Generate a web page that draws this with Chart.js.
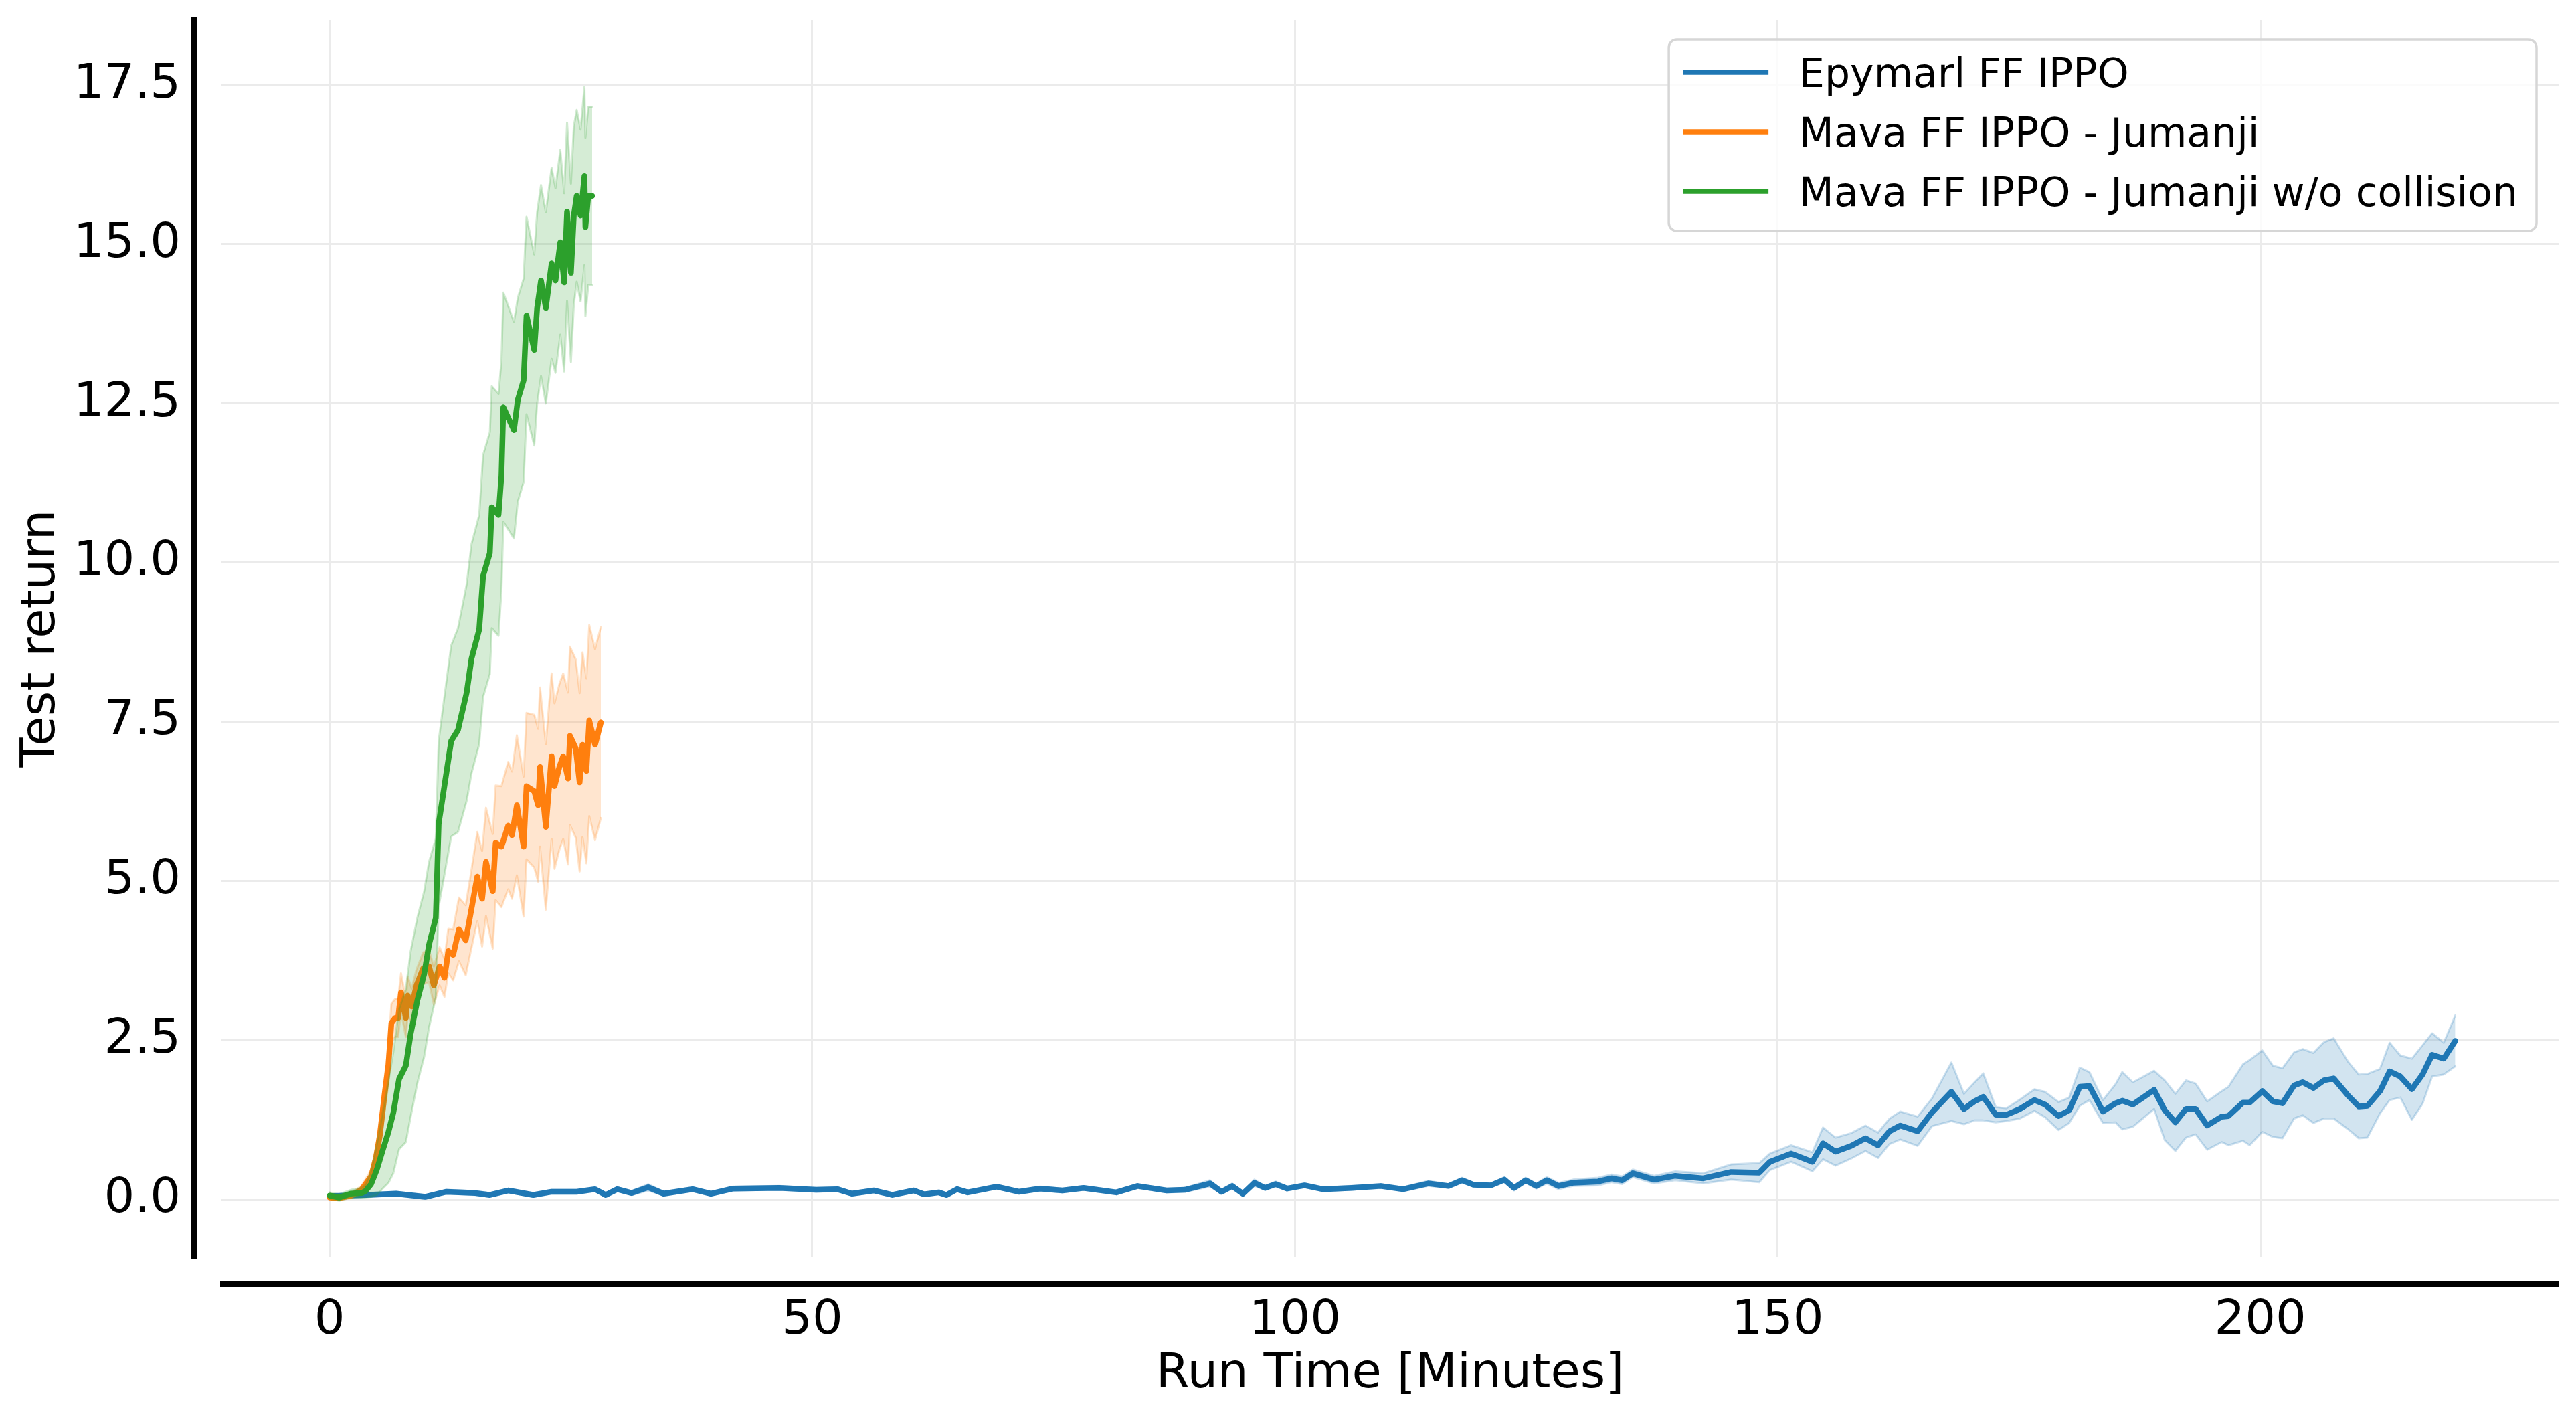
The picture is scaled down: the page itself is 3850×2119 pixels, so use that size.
<!DOCTYPE html>
<html>
<head>
<meta charset="utf-8">
<script src="https://cdn.jsdelivr.net/npm/chart.js@4.4.1/dist/chart.umd.min.js"></script>
<style>
  html, body { margin: 0; padding: 0; background: #fff; overflow: hidden; }
  canvas { display: block; }
</style>
</head>
<body>
<canvas id="myChart" width="3850" height="2119" style="width:3850px;height:2119px"></canvas>
<script>
(function () {
    "use strict";

    const seriesLabels = ['Epymarl FF IPPO', 'Mava FF IPPO - Jumanji', 'Mava FF IPPO - Jumanji w/o collision'];
    const axisLabels = { x: 'Run Time [Minutes]', y: 'Test return' };

    // Epymarl FF IPPO (minutes / mean return / spread of the shaded band)
    const epymarlTime = [
        0, 3.8, 6.9, 9.9, 12.1, 15.1, 16.6, 18.5, 21.1, 23.0,
        25.6, 27.5, 28.6, 29.8, 31.3, 33.0, 34.6, 37.6, 39.5, 41.8,
        46.6, 50.4, 52.6, 54.1, 56.4, 58.3, 60.5, 61.6, 63.1, 63.9,
        65.0, 66.1, 69.1, 71.4, 73.6, 75.9, 78.1, 81.5, 83.7, 86.7,
        88.6, 91.2, 92.4, 93.5, 94.6, 95.8, 96.9, 98.0, 99.2, 101.0,
        102.9, 105.9, 108.9, 111.2, 113.8, 115.9, 117.3, 118.5, 120.3, 121.7,
        122.7, 123.9, 125.0, 126.1, 127.3, 128.8, 131.4, 132.8, 133.9, 135.0,
        137.2, 139.4, 142.3, 145.2, 148.1, 149.2, 151.4, 153.6, 154.7, 156.0,
        157.6, 159.1, 160.4, 161.6, 162.7, 164.5, 166.0, 168.0, 169.3, 170.4,
        171.3, 172.6, 173.7, 175.1, 176.6, 177.7, 179.1, 180.2, 181.3, 182.3,
        183.7, 185.0, 185.7, 186.8, 189.0, 190.1, 191.2, 192.3, 193.3, 194.5,
        196.0, 196.7, 198.2, 198.9, 200.2, 201.3, 202.3, 203.5, 204.4, 205.5,
        206.6, 207.6, 209.1, 210.2, 211.1, 212.4, 213.4, 214.5, 215.7, 216.8,
        217.8, 219.0, 220.2
    ];
    const epymarlMean = [
        0.05, 0.07, 0.09, 0.04, 0.12, 0.10, 0.07, 0.14, 0.07, 0.12,
        0.12, 0.16, 0.07, 0.16, 0.10, 0.19, 0.09, 0.16, 0.09, 0.17,
        0.18, 0.15, 0.16, 0.09, 0.14, 0.07, 0.14, 0.08, 0.11, 0.07,
        0.16, 0.11, 0.20, 0.12, 0.17, 0.14, 0.18, 0.11, 0.21, 0.14,
        0.15, 0.25, 0.12, 0.21, 0.09, 0.26, 0.18, 0.24, 0.17, 0.22,
        0.16, 0.18, 0.21, 0.16, 0.25, 0.21, 0.30, 0.23, 0.22, 0.31,
        0.18, 0.30, 0.21, 0.30, 0.21, 0.26, 0.28, 0.33, 0.30, 0.41,
        0.31, 0.37, 0.33, 0.43, 0.42, 0.59, 0.72, 0.59, 0.88, 0.75,
        0.84, 0.96, 0.85, 1.07, 1.16, 1.07, 1.37, 1.69, 1.42, 1.54,
        1.61, 1.33, 1.33, 1.42, 1.56, 1.49, 1.31, 1.40, 1.77, 1.78,
        1.38, 1.51, 1.55, 1.49, 1.72, 1.40, 1.21, 1.42, 1.42, 1.16,
        1.30, 1.31, 1.52, 1.52, 1.70, 1.54, 1.51, 1.79, 1.84, 1.75,
        1.87, 1.90, 1.63, 1.46, 1.47, 1.70, 2.01, 1.93, 1.73, 1.96,
        2.27, 2.21, 2.49
    ];
    const epymarlSpread = [
        0.03, 0.03, 0.03, 0.03, 0.03, 0.03, 0.03, 0.03, 0.03, 0.03,
        0.03, 0.03, 0.03, 0.03, 0.03, 0.05, 0.03, 0.03, 0.03, 0.03,
        0.03, 0.03, 0.03, 0.03, 0.03, 0.03, 0.03, 0.03, 0.03, 0.03,
        0.03, 0.03, 0.03, 0.03, 0.03, 0.03, 0.03, 0.03, 0.03, 0.03,
        0.03, 0.05, 0.03, 0.04, 0.03, 0.05, 0.03, 0.04, 0.03, 0.03,
        0.03, 0.03, 0.03, 0.03, 0.04, 0.03, 0.04, 0.03, 0.03, 0.04,
        0.04, 0.04, 0.04, 0.05, 0.05, 0.05, 0.06, 0.06, 0.06, 0.06,
        0.06, 0.07, 0.08, 0.12, 0.15, 0.13, 0.13, 0.15, 0.25, 0.22,
        0.20, 0.20, 0.20, 0.20, 0.22, 0.23, 0.22, 0.46, 0.24, 0.30,
        0.37, 0.12, 0.10, 0.15, 0.17, 0.20, 0.22, 0.20, 0.30, 0.22,
        0.18, 0.30, 0.45, 0.35, 0.30, 0.47, 0.45, 0.45, 0.40, 0.38,
        0.40, 0.46, 0.60, 0.67, 0.64, 0.56, 0.55, 0.52, 0.52, 0.55,
        0.60, 0.63, 0.53, 0.50, 0.50, 0.35, 0.45, 0.33, 0.48, 0.46,
        0.34, 0.25, 0.40
    ];

    // Mava FF IPPO - Jumanji
    const mavaTime = [
        0, 1.0, 2.2, 3.3, 4.3, 4.8, 5.2, 5.7, 6.1, 6.4,
        6.8, 7.1, 7.4, 7.9, 8.1, 8.5, 9.0, 9.7, 10.3, 10.8,
        11.4, 11.9, 12.3, 12.8, 13.4, 14.1, 14.6, 15.3, 15.8, 16.2,
        16.9, 17.2, 17.8, 18.5, 18.9, 19.4, 20.1, 20.4, 21.2, 21.6,
        21.8, 22.4, 23.0, 23.3, 23.8, 24.2, 24.7, 24.9, 25.5, 25.9,
        26.2, 26.6, 26.9, 27.5, 28.1
    ];
    const mavaMean = [
        0.03, 0.02, 0.06, 0.15, 0.36, 0.65, 1.00, 1.65, 2.12, 2.77,
        2.85, 2.85, 3.25, 2.85, 3.20, 3.03, 3.36, 3.63, 3.66, 3.36,
        3.66, 3.48, 3.90, 3.84, 4.24, 4.07, 4.48, 5.07, 4.72, 5.30,
        4.84, 5.60, 5.54, 5.87, 5.72, 6.19, 5.54, 6.49, 6.41, 6.19,
        6.79, 5.85, 6.96, 6.49, 6.79, 6.96, 6.61, 7.28, 7.08, 6.55,
        7.14, 6.73, 7.52, 7.14, 7.49
    ];
    const mavaSpread = [
        0.03, 0.03, 0.04, 0.06, 0.10, 0.15, 0.20, 0.25, 0.30, 0.30,
        0.30, 0.30, 0.30, 0.30, 0.30, 0.28, 0.25, 0.25, 0.25, 0.30,
        0.30, 0.30, 0.35, 0.40, 0.50, 0.55, 0.60, 0.70, 0.75, 0.85,
        0.90, 0.90, 0.95, 1.00, 1.00, 1.10, 1.10, 1.15, 1.20, 1.20,
        1.25, 1.30, 1.30, 1.30, 1.30, 1.30, 1.35, 1.40, 1.40, 1.40,
        1.45, 1.45, 1.50, 1.50, 1.50
    ];

    // Mava FF IPPO - Jumanji w/o collision
    const noCollTime = [
        0, 1.0, 2.2, 3.3, 3.7, 4.3, 4.9, 5.5, 6.1, 6.6,
        7.2, 7.9, 8.4, 9.1, 9.8, 10.3, 11.0, 11.3, 11.9, 12.6,
        13.3, 14.2, 14.7, 15.5, 15.9, 16.6, 16.8, 17.5, 17.8, 18.0,
        19.1, 19.5, 20.1, 20.4, 21.2, 21.5, 21.9, 22.4, 23.0, 23.4,
        23.9, 24.3, 24.6, 25.0, 25.3, 25.6, 26.0, 26.4, 26.5, 26.8,
        27.2
    ];
    const noCollMean = [
        0.06, 0.03, 0.09, 0.10, 0.13, 0.24, 0.47, 0.77, 1.06, 1.36,
        1.89, 2.10, 2.60, 3.13, 3.54, 4.00, 4.42, 5.90, 6.50, 7.20,
        7.37, 7.96, 8.49, 8.95, 9.79, 10.15, 10.87, 10.75, 11.36, 12.44,
        12.08, 12.56, 12.86, 13.88, 13.34, 14.00, 14.43, 14.00, 14.70, 14.43,
        15.03, 14.40, 15.51, 14.55, 15.45, 15.76, 15.45, 16.07, 15.27, 15.76,
        15.76
    ];
    const noCollSpread = [
        0.05, 0.05, 0.06, 0.08, 0.10, 0.20, 0.40, 0.60, 0.80, 0.95,
        1.10, 1.20, 1.30, 1.30, 1.30, 1.30, 1.25, 1.30, 1.40, 1.50,
        1.60, 1.70, 1.80, 1.80, 1.90, 1.90, 1.90, 1.90, 1.80, 1.80,
        1.70, 1.60, 1.60, 1.55, 1.50, 1.50, 1.50, 1.50, 1.50, 1.45,
        1.45, 1.40, 1.40, 1.40, 1.40, 1.35, 1.35, 1.40, 1.40, 1.40,
        1.40
    ];

    const xTickStep = 50;
    const yTickStep = 2.5;

    const colours = ['31, 119, 180', '255, 127, 14', '44, 160, 44'];
    const fontFamily = '"DejaVu Sans", sans-serif';

    function points(time, values, shift, sign) {
        return time.map(function (t, i) {
            return { x: t, y: values[i] + (shift ? sign * shift[i] : 0) };
        });
    }

    // upper edge, lower edge (filled to the upper one) and the mean line
    function seriesDatasets(label, time, mean, spread, rgb, order) {
        return [{
            label: label + ' upper',
            data: points(time, mean, spread, 1),
            borderColor: 'rgba(' + rgb + ', 0.22)',
            borderWidth: 3,
            pointRadius: 0,
            fill: false,
            order: order + 1
        }, {
            label: label + ' lower',
            data: points(time, mean, spread, -1),
            borderColor: 'rgba(' + rgb + ', 0.22)',
            backgroundColor: 'rgba(' + rgb + ', 0.2)',
            borderWidth: 3,
            pointRadius: 0,
            fill: '-1',
            order: order + 1
        }, {
            label: label,
            data: points(time, mean),
            borderColor: 'rgb(' + rgb + ')',
            borderWidth: 8.5,
            pointRadius: 0,
            fill: false,
            order: order,
            isMean: true
        }];
    }

    const datasets = []
        .concat(seriesDatasets(seriesLabels[0], epymarlTime, epymarlMean, epymarlSpread, colours[0], 4))
        .concat(seriesDatasets(seriesLabels[1], mavaTime, mavaMean, mavaSpread, colours[1], 2))
        .concat(seriesDatasets(seriesLabels[2], noCollTime, noCollMean, noCollSpread, colours[2], 0));

    /*offset spines and the boxed legend*/
    const frame = {
        id: 'frame',
        afterDraw: function (chart) {
            const ctx = chart.ctx;
            const a = chart.chartArea;
            ctx.save();
            ctx.strokeStyle = '#000';
            ctx.lineWidth = 8;
            ctx.beginPath();
            ctx.moveTo(a.left - 41, a.top - 4);
            ctx.lineTo(a.left - 41, a.bottom + 4);
            ctx.moveTo(a.left - 2, a.bottom + 41);
            ctx.lineTo(a.right, a.bottom + 41);
            ctx.stroke();

            const means = chart.data.datasets.filter(function (d) { return d.isMean; });
            ctx.font = '60px ' + fontFamily;
            var widest = 0;
            means.forEach(function (d) {
                widest = Math.max(widest, ctx.measureText(d.label).width);
            });
            const boxW = 195 + widest + 28;
            const boxH = 286;
            const right = a.right - 33;
            const left = right - boxW;
            const top = a.top + 29;
            ctx.beginPath();
            ctx.roundRect(left, top, boxW, boxH, 12);
            ctx.fillStyle = 'rgba(255, 255, 255, 0.8)';
            ctx.fill();
            ctx.lineWidth = 3.5;
            ctx.strokeStyle = '#d6d6d6';
            ctx.stroke();

            means.forEach(function (d, i) {
                const cy = top + 49 + i * 89;
                ctx.beginPath();
                ctx.moveTo(left + 21, cy);
                ctx.lineTo(left + 149, cy);
                ctx.lineWidth = 7.5;
                ctx.strokeStyle = d.borderColor;
                ctx.stroke();
                ctx.fillStyle = '#000';
                ctx.textBaseline = 'alphabetic';
                ctx.textAlign = 'left';
                ctx.fillText(d.label, left + 195, cy + 22);
            });
            ctx.restore();
        }
    };

    const ctx = document.getElementById('myChart').getContext('2d');
    const chart = new Chart(ctx, {
        type: 'line',
        data: { datasets: datasets },
        plugins: [frame],
        options: {
            responsive: false,
            animation: false,
            devicePixelRatio: 1,
            layout: { padding: { top: 30, right: 26, left: 0, bottom: 0 } },
            elements: { line: { tension: 0, borderJoinStyle: 'round', borderCapStyle: 'round' } },
            plugins: {
                legend: { display: false },
                tooltip: { enabled: false }
            },
            scales: {
                x: {
                    type: 'linear',
                    min: -11.2,
                    max: 230.9,
                    afterFit: function (scale) {
                        scale.height = 241;
                        scale.paddingLeft = 0;
                        scale.paddingRight = 0;
                    },
                    border: { display: false },
                    grid: { color: '#ebebeb', lineWidth: 3, drawTicks: false },
                    ticks: {
                        stepSize: xTickStep,
                        includeBounds: false,
                        padding: 53,
                        color: '#000',
                        maxRotation: 0,
                        font: { family: fontFamily, size: 72 }
                    },
                    title: {
                        display: true,
                        text: axisLabels.x,
                        color: '#000',
                        padding: { top: 0, bottom: 22 },
                        font: { family: fontFamily, size: 72 }
                    }
                },
                y: {
                    type: 'linear',
                    min: -0.9,
                    max: 18.52,
                    afterFit: function (scale) {
                        scale.width = 331;
                        scale.paddingTop = 0;
                        scale.paddingBottom = 0;
                    },
                    border: { display: false },
                    grid: { color: '#ebebeb', lineWidth: 3, drawTicks: false },
                    ticks: {
                        stepSize: yTickStep,
                        includeBounds: false,
                        padding: 61,
                        color: '#000',
                        font: { family: fontFamily, size: 72 },
                        callback: function (value) { return value.toFixed(1); }
                    },
                    title: {
                        display: true,
                        text: axisLabels.y,
                        color: '#000',
                        padding: { top: 19, bottom: 0 },
                        font: { family: fontFamily, size: 72 }
                    }
                }
            }
        }
    });
})();
</script>
</body>
</html>
